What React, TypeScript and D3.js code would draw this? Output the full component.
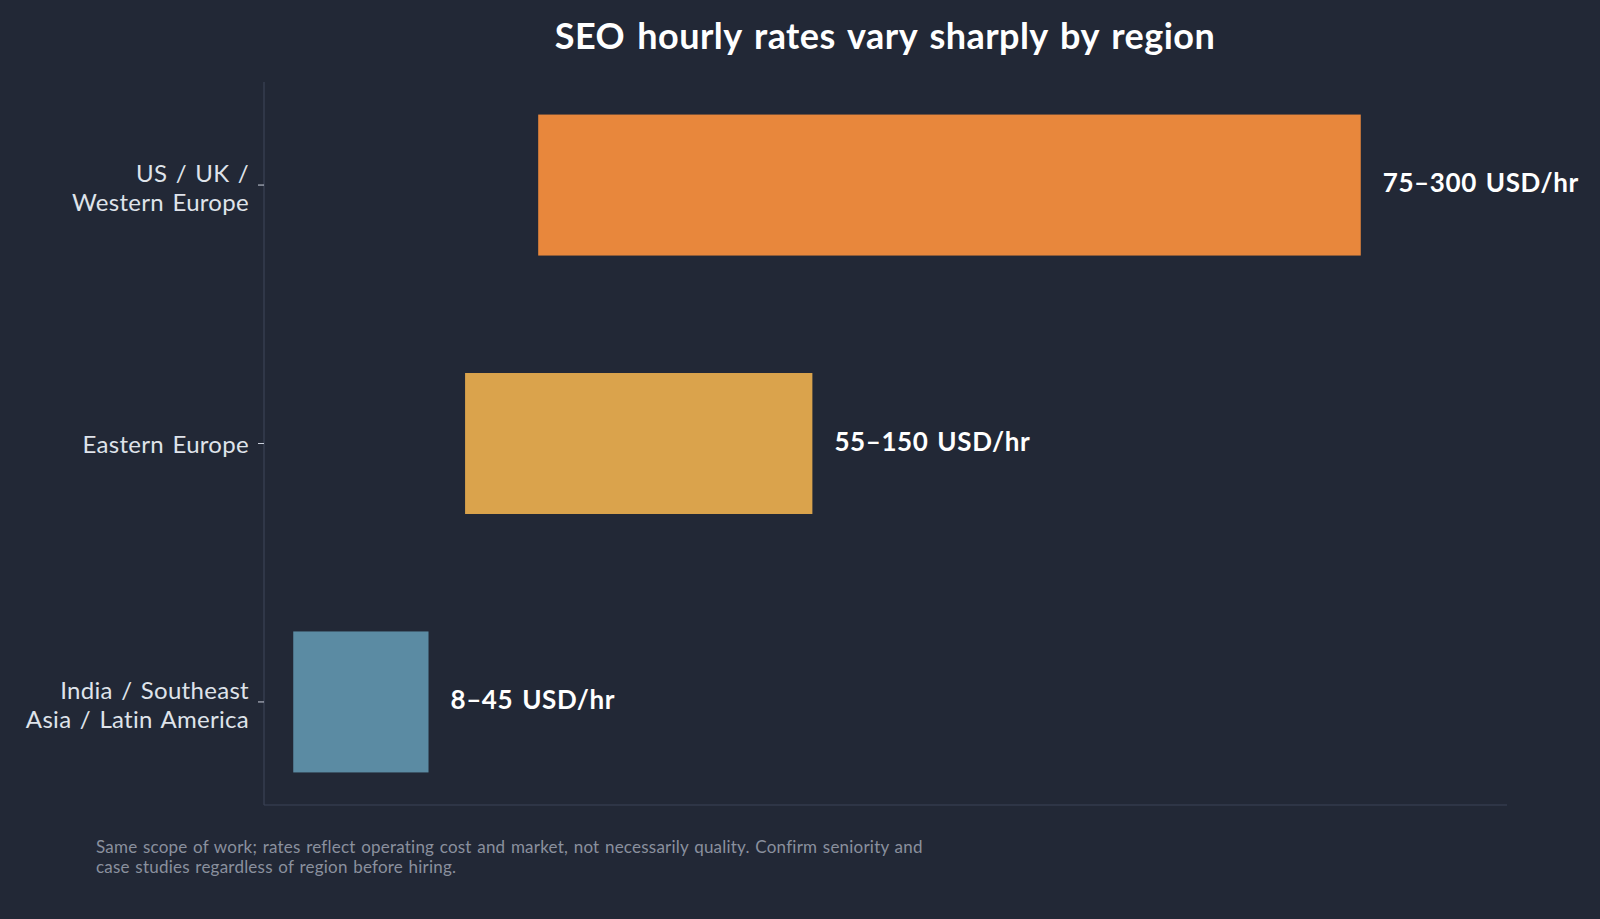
import React from 'react';
import * as d3 from 'd3';

// 数据
const regions = ['US / UK / Western Europe', 'Eastern Europe', 'India / Southeast Asia / Latin America'];
const regionLines = [['US / UK /', 'Western Europe'], ['Eastern Europe'], ['India / Southeast', 'Asia / Latin America']];
const rateLow = [75, 55, 8];
const rateHigh = [300, 150, 45];
const rateLabels = ['75–300 USD/hr', '55–150 USD/hr', '8–45 USD/hr'];
const barColors = ['#E8873C', '#DAA34C', '#5B8BA3'];

const title = 'SEO hourly rates vary sharply by region';
const noteLines = [
  'Same scope of work; rates reflect operating cost and market, not necessarily quality. Confirm seniority and',
  'case studies regardless of region before hiring.',
];

const width = 1600;
const height = 919;
const plot = { left: 264, right: 1507, top: 82, bottom: 805 };
const font = 'Lato, "Open Sans", sans-serif';

const App: React.FC = () => {
  const x = d3.scaleLinear().domain([0, 340]).range([plot.left, plot.right]);
  const y = d3
    .scaleBand<string>()
    .domain(regions)
    .range([plot.top, plot.bottom])
    .paddingInner(0.4545)
    .paddingOuter(0.126);

  return (
    <svg
      width={width}
      height={height}
      style={{ position: 'absolute', left: 0, top: 0, background: '#222836' }}
    >
      <rect x={0} y={0} width={width} height={height} fill="#222836" />
      <text
        x={885}
        y={49}
        textAnchor="middle"
        fill="#ffffff"
        fontFamily={font}
        fontWeight={700}
        fontSize={36}
        letterSpacing={0.45}
        wordSpacing={3}
      >
        {title}
      </text>

      {/* 坐标轴 */}
      <line x1={plot.left} x2={plot.left} y1={plot.top} y2={plot.bottom} stroke="#3b4256" strokeWidth={1.2} />
      <line x1={plot.left} x2={plot.right} y1={plot.bottom} y2={plot.bottom} stroke="#3b4256" strokeWidth={1.2} />

      {regions.map((r, i) => {
        const cy = (y(r) ?? 0) + y.bandwidth() / 2;
        const lines = regionLines[i];
        const lh = 29.5;
        const y0 = cy + (lines.length > 1 ? 1.5 : -1) - ((lines.length - 1) * lh) / 2;
        return (
          <g key={r}>
            <line x1={plot.left - 6} x2={plot.left} y1={cy} y2={cy} stroke="#c9ceda" strokeWidth={1} />
            <text
              textAnchor="end"
              fill="#dfe3ea"
              fontFamily={font}
              fontSize={24}
              letterSpacing={0.3}
              wordSpacing={2}
              dominantBaseline="central"
            >
              {lines.map((l, j) => (
                <tspan key={j} x={249} y={y0 + j * lh}>
                  {l}
                </tspan>
              ))}
            </text>
            <rect
              x={x(rateLow[i])}
              y={y(r)}
              width={x(rateHigh[i]) - x(rateLow[i])}
              height={y.bandwidth()}
              fill={barColors[i]}
            />
            <text
              x={x(rateHigh[i]) + 22}
              y={cy - 3}
              dominantBaseline="central"
              fill="#ffffff"
              fontFamily={font}
              fontWeight={700}
              fontSize={26}
              letterSpacing={0.6}
              wordSpacing={2}
            >
              {rateLabels[i]}
            </text>
          </g>
        );
      })}

      <text fill="#8a909e" fontFamily={font} fontSize={17} letterSpacing={0.22} wordSpacing={1}>
        {noteLines.map((l, j) => (
          <tspan key={j} x={96} y={853 + j * 20}>
            {l}
          </tspan>
        ))}
      </text>
    </svg>
  );
};

export default App;
